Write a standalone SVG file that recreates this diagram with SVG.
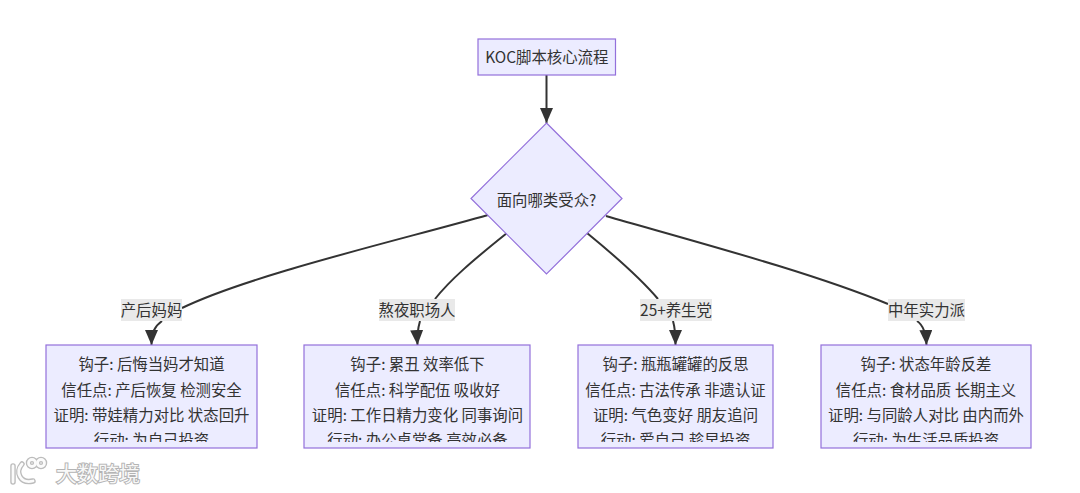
<svg xmlns="http://www.w3.org/2000/svg" width="1080" height="493" viewBox="0 0 1080 493">
<style>
text{font-family:"Noto Sans CJK SC","Noto Sans",sans-serif;font-size:15.4px;fill:#333;text-anchor:middle}
.n{fill:#ECECFF;stroke:#9370DB;stroke-width:1.2}
.e{fill:none;stroke:#333;stroke-width:2}
.lb{fill:#e8e8e8;opacity:.95}
.wm{fill:#f8f8f8;stroke:#b4b4b4;stroke-width:2;paint-order:stroke;font-size:21px}
.wl{fill:none;stroke:#bcbcbc;stroke-width:5.500;stroke-linecap:round}
.wl2{fill:none;stroke:#fbfbfb;stroke-width:2.800;stroke-linecap:round}
</style>
<defs>
<marker id="a" markerUnits="userSpaceOnUse" markerWidth="16" markerHeight="14" refX="15" refY="6.500" orient="auto"><path d="M0 0L15 6.500L0 13z" fill="#333"/></marker>
<clipPath id="c1"><rect x="46" y="345" width="211" height="97"/></clipPath>
<clipPath id="c2"><rect x="304" y="345" width="226" height="97"/></clipPath>
<clipPath id="c3"><rect x="578" y="345" width="195" height="97"/></clipPath>
<clipPath id="c4"><rect x="821" y="345" width="210" height="97"/></clipPath>
</defs>
<rect width="1080" height="493" fill="#fff"/>
<g id="connectors">
<path class="e" marker-end="url(#a)" d="M546.500 75V123"/>
<path class="e" d="M488 215C400 240 250 275 182 308"/>
<path class="e" marker-end="url(#a)" d="M162 321C155 326 151.500 332 151.500 345"/>
<path class="e" d="M507 233C472 261 450 280 435 299"/>
<path class="e" marker-end="url(#a)" d="M420 321C418 328 417 336 417.500 345"/>
<path class="e" d="M587 233C620 260 642 280 658 299"/>
<path class="e" marker-end="url(#a)" d="M673 321C675 328 675.500 336 675.500 345"/>
<path class="e" d="M606 216C700 243 810 272 888 304"/>
<path class="e" marker-end="url(#a)" d="M917 321C923 325 926 333 926.500 345"/>
</g>
<g id="edge-labels">
<rect class="lb" x="121" y="299" width="61" height="22"/><text x="151.500" y="316">产后妈妈</text>
<rect class="lb" x="379" y="299" width="76" height="22"/><text x="417" y="316">熬夜职场人</text>
<rect class="lb" x="640" y="299" width="72" height="22"/><text x="676" y="316">25+养生党</text>
<rect class="lb" x="888" y="299" width="77" height="22"/><text x="926.500" y="316">中年实力派</text>
</g>
<g id="node-start">
<rect class="n" x="478" y="39" width="137.500" height="36"/>
<text x="546.750" y="63">KOC脚本核心流程</text>
</g>
<g id="node-decision">
<path class="n" d="M546.500 123L622 198.500L546.500 274L471 198.500z"/>
<text x="546.500" y="206">面向哪类受众?</text>
</g>
<g id="node-a">
<rect class="n" x="46" y="345" width="211" height="103"/>
<g clip-path="url(#c1)">
<text x="151.500" y="370">钩子: 后悔当妈才知道</text>
<text x="151.500" y="396">信任点: 产后恢复 检测安全</text>
<text x="151.500" y="421">证明: 带娃精力对比 状态回升</text>
<text x="151.500" y="446">行动: 为自己投资</text>
</g>
</g>
<g id="node-b">
<rect class="n" x="304" y="345" width="226" height="103"/>
<g clip-path="url(#c2)">
<text x="417.500" y="370">钩子: 累丑 效率低下</text>
<text x="417.500" y="396">信任点: 科学配伍 吸收好</text>
<text x="417.500" y="421">证明: 工作日精力变化 同事询问</text>
<text x="417.500" y="446">行动: 办公桌常备 高效必备</text>
</g>
</g>
<g id="node-c">
<rect class="n" x="578" y="345" width="195" height="103"/>
<g clip-path="url(#c3)">
<text x="675.500" y="370">钩子: 瓶瓶罐罐的反思</text>
<text x="675.500" y="396">信任点: 古法传承 非遗认证</text>
<text x="675.500" y="421">证明: 气色变好 朋友追问</text>
<text x="675.500" y="446">行动: 爱自己 趁早投资</text>
</g>
</g>
<g id="node-d">
<rect class="n" x="821" y="345" width="210" height="103"/>
<g clip-path="url(#c4)">
<text x="926" y="370">钩子: 状态年龄反差</text>
<text x="926" y="396">信任点: 食材品质 长期主义</text>
<text x="926" y="421">证明: 与同龄人对比 由内而外</text>
<text x="926" y="446">行动: 为生活品质投资</text>
</g>
</g>
<g id="watermark">
<path class="wl" d="M13 466V482M22 464C15 472 20 484 33 481"/>
<circle class="wl" cx="32" cy="463" r="3.500" stroke-width="5"/>
<circle class="wl" cx="41" cy="463" r="3.500" stroke-width="5"/>
<path class="wl2" d="M13 466V482M22 464C15 472 20 484 33 481"/>
<circle class="wl2" cx="32" cy="463" r="3.500"/>
<circle class="wl2" cx="41" cy="463" r="3.500"/>
<text class="wm" x="98" y="481">大数跨境</text>
</g>
</svg>
